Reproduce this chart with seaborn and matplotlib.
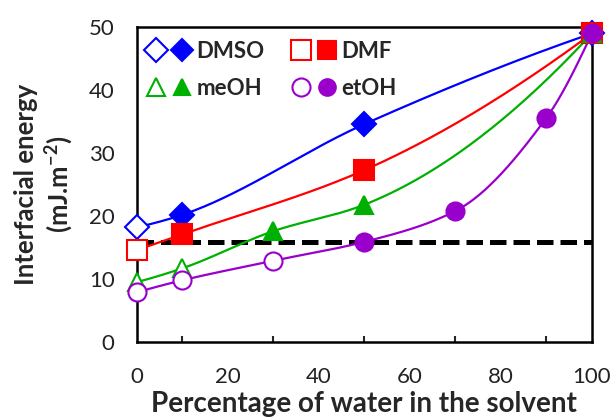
import numpy as np
import pandas as pd
import matplotlib
matplotlib.use("Agg")
import matplotlib.pyplot as plt
import seaborn as sns
from matplotlib.lines import Line2D
from matplotlib.legend_handler import HandlerTuple

# ---- data ----
dmso_x = [0, 10, 50, 100]
dmso_y = [18.2, 20.2, 34.6, 49.0]
dmso_open = [True, False, False, False]

dmf_x = [0, 10, 50, 100]
dmf_y = [14.6, 17.1, 27.3, 49.0]
dmf_open = [True, False, False, False]

meoh_x = [0, 10, 30, 50, 100]
meoh_y = [9.5, 11.7, 17.6, 21.8, 49.0]
meoh_open = [True, True, False, False, False]

etoh_x = [0, 10, 30, 50, 70, 90, 100]
etoh_y = [7.9, 9.8, 12.9, 15.9, 20.8, 35.6, 49.0]
etoh_open = [True, True, True, False, False, False, False]

threshold = 15.9

series_names = ["DMSO", "DMF", "meOH", "etOH"]


def smooth_line(xs, ys, n=60):
    """Shape-preserving smooth curve through the points (PCHIP)."""
    x = np.asarray(xs, float)
    y = np.asarray(ys, float)
    h = np.diff(x)
    d = np.diff(y) / h
    m = np.zeros_like(y)
    for k in range(1, len(x) - 1):
        if d[k - 1] * d[k] > 0:
            w1 = 2 * h[k] + h[k - 1]
            w2 = h[k] + 2 * h[k - 1]
            m[k] = (w1 + w2) / (w1 / d[k - 1] + w2 / d[k])

    def end_slope(h0, h1, d0, d1):
        s = ((2 * h0 + h1) * d0 - h0 * d1) / (h0 + h1)
        if np.sign(s) != np.sign(d0):
            s = 0.0
        elif np.sign(d0) != np.sign(d1) and abs(s) > abs(3 * d0):
            s = 3 * d0
        return s

    m[0] = end_slope(h[0], h[1], d[0], d[1])
    m[-1] = end_slope(h[-1], h[-2], d[-1], d[-2])
    xo, yo = [], []
    for k in range(len(x) - 1):
        t = np.linspace(0, 1, n)
        h00 = 2 * t**3 - 3 * t**2 + 1
        h10 = t**3 - 2 * t**2 + t
        h01 = -2 * t**3 + 3 * t**2
        h11 = t**3 - t**2
        seg_y = h00 * y[k] + h10 * h[k] * m[k] + h01 * y[k + 1] + h11 * h[k] * m[k + 1]
        seg_x = x[k] + t * h[k]
        if k > 0:
            seg_x, seg_y = seg_x[1:], seg_y[1:]
        xo.append(seg_x)
        yo.append(seg_y)
    return np.concatenate(xo), np.concatenate(yo)


sns.set_style("white")
plt.rcParams['font.family'] = ['Lato', 'DejaVu Sans']
plt.rcParams['mathtext.fontset'] = 'custom'
plt.rcParams['mathtext.rm'] = 'Lato'
plt.rcParams['mathtext.bf'] = 'Lato:bold'

fig = plt.figure(figsize=(6.14, 4.18), dpi=100)
ax = fig.add_axes([0.223, 0.182, 0.741, 0.753])

styles = {
    "DMSO": dict(color="#0000FF", marker="D", ms=12),
    "DMF": dict(color="#FF0000", marker="s", ms=14),
    "meOH": dict(color="#00B000", marker="^", ms=12.5),
    "etOH": dict(color="#9900CC", marker="o", ms=13),
}
data = {
    "DMSO": (dmso_x, dmso_y, dmso_open),
    "DMF": (dmf_x, dmf_y, dmf_open),
    "meOH": (meoh_x, meoh_y, meoh_open),
    "etOH": (etoh_x, etoh_y, etoh_open),
}

# dashed reference line
ax.axhline(threshold, color="black", lw=3.6, ls=(0, (3.3, 1.4)), zorder=2)

for name in series_names:
    xs, ys, op = data[name]
    st = styles[name]
    cx, cy = smooth_line(xs, ys)
    fit = pd.DataFrame({"x": cx, "y": cy})
    sns.lineplot(data=fit, x="x", y="y", ax=ax, color=st["color"], lw=1.6, zorder=3,
                 sort=False, estimator=None)
    df = pd.DataFrame({"x": xs, "y": ys, "open": op})
    for is_open, sub in df.groupby("open"):
        ax.plot(sub["x"], sub["y"], ls="none", marker=st["marker"], ms=st["ms"],
                mfc="white" if is_open else st["color"], mec=st["color"],
                mew=1.5, zorder=4, clip_on=False)

ax.set_xlim(0, 100)
ax.set_ylim(0, 50)
ax.set_xticks(np.arange(0, 101, 20))
ax.set_xticks(np.arange(10, 100, 20), minor=True)
ax.set_yticks(np.arange(0, 51, 10))
ax.tick_params(axis="both", which="major", direction="in", length=6, width=1.5,
               labelsize=16, colors="black", labelcolor="#222222")
ax.tick_params(axis="x", which="major", pad=18)
ax.tick_params(axis="y", which="major", pad=16)
ax.tick_params(axis="x", which="minor", direction="in", length=4, width=1.5, bottom=True)
ax.tick_params(axis="both", top=False, right=False)
for sp in ax.spines.values():
    sp.set_visible(True)
    sp.set_color("black")
    sp.set_linewidth(1.8)

ax.set_xlabel("Percentage of water in the solvent", fontsize=20, fontweight="bold", labelpad=3)
ax.set_ylabel("Interfacial energy\n(mJ.m$^{\\mathbf{-2}}$)", fontsize=18.5, fontweight="bold",
              labelpad=10, linespacing=1.15)

h = {}
for name in series_names:
    st = styles[name]
    h_open = Line2D([], [], ls="none", marker=st["marker"], ms=st["ms"], mfc="white",
                    mec=st["color"], mew=1.5)
    h_fill = Line2D([], [], ls="none", marker=st["marker"], ms=st["ms"] * 0.92, mfc=st["color"],
                    mec=st["color"], mew=1.5)
    h[name] = (h_open, h_fill)
order = ["DMSO", "meOH", "DMF", "etOH"]  # column-major fill -> row-major look
leg = ax.legend([h[n] for n in order], order,
                handler_map={tuple: HandlerTuple(ndivide=None, pad=0.27)},
                ncol=2, loc="upper left", frameon=False, handlelength=2.07, handletextpad=0.22,
                columnspacing=1.17, borderaxespad=0.2, labelspacing=0.75,
                prop={"weight": "bold", "size": 16}, bbox_to_anchor=(-0.01, 1.0))

fig.savefig("out.png", dpi=100)
